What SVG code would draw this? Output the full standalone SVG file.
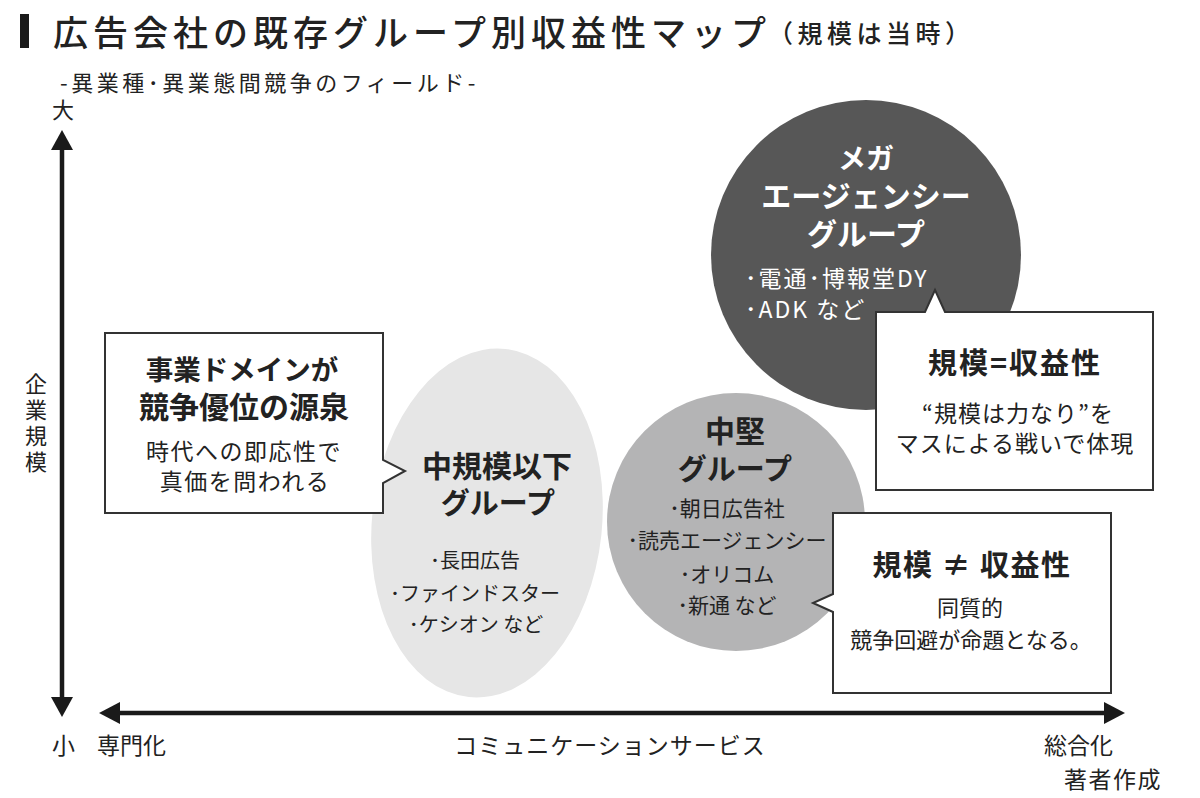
<svg xmlns="http://www.w3.org/2000/svg" width="1200" height="798" viewBox="0 0 1200 798">
<defs>
<style>
text{font-family:"Noto Sans CJK JP","Noto Sans",sans-serif;fill:#222}
.title{font-size:35px;font-weight:500;letter-spacing:5px}
.paren{font-size:25px;font-weight:500;letter-spacing:4.5px}
.sub{font-size:22px;letter-spacing:3.5px}
.ax{font-size:23px}
.hd{font-size:29px;font-weight:bold;text-anchor:middle}
.bd{font-size:22px;text-anchor:middle}
.it{font-size:20px;text-anchor:middle}
.it2{font-size:21px;text-anchor:middle}
.w{fill:#fff}
.box{fill:#fff;stroke:#333;stroke-width:2}
.axis{stroke:#1a1a1a;stroke-width:4.5;fill:none}
.ah{fill:#1a1a1a}
</style>
</defs>
<rect width="1200" height="798" fill="#fff"/>

<g id="title">
<rect x="20" y="14" width="9" height="34" fill="#1a1a1a"/>
<text class="title" x="53" y="46">広告会社の既存グループ別収益性マップ</text>
<text class="paren" x="768" y="43">（規模は当時）</text>
<text class="sub" x="60" y="91">-異業種･異業態間競争のフィールド-</text>
</g>

<g id="connectors">
<line class="axis" x1="62" y1="146" x2="62" y2="700"/>
<polygon class="ah" points="62,130 51,150 73,150"/>
<polygon class="ah" points="62,717 51,697 73,697"/>
<line class="axis" x1="116" y1="713" x2="1108" y2="713"/>
<polygon class="ah" points="99,713 120,702 120,724"/>
<polygon class="ah" points="1125,713 1104,702 1104,724"/>
</g>

<g id="axis-labels">
<text x="63" y="118" style="font-size:22px" text-anchor="middle">大</text>
<text x="36" y="373" style="font-size:22px;writing-mode:vertical-rl;letter-spacing:4px">企業規模</text>
<text class="ax" x="52" y="754">小</text>
<text class="ax" x="97" y="754">専門化</text>
<text class="ax" x="610" y="754" text-anchor="middle" style="letter-spacing:1px">コミュニケーションサービス</text>
<text class="ax" x="1044" y="754">総合化</text>
<text class="ax" x="1064" y="788" style="letter-spacing:1.5px">著者作成</text>
</g>

<g id="small-group">
<ellipse cx="487" cy="523" rx="115" ry="175" transform="rotate(6 487 523)" fill="#e6e6e6"/>
<text class="hd" x="497" y="477" style="font-size:30px">中規模以下</text>
<text class="hd" x="498" y="514">グループ</text>
<text class="it" x="475" y="568">･長田広告</text>
<text class="it" x="475" y="601">･ファインドスター</text>
<text class="it" x="476" y="632">･ケシオン など</text>
</g>

<g id="mega-group">
<circle cx="866" cy="255" r="155" fill="#575757"/>
<text class="hd w" x="866" y="169" style="font-size:28px">メガ</text>
<text class="hd w" x="866" y="207" style="font-size:30px">エージェンシー</text>
<text class="hd w" x="866" y="245" style="font-size:30px">グループ</text>
<text class="w" x="745" y="287" style="font-size:23px;letter-spacing:2px">･電通･博報堂DY</text>
<text class="w" x="745" y="318" style="font-size:23px;letter-spacing:2px">･ADK など</text>
</g>

<g id="mid-group">
<circle cx="736" cy="522" r="129" fill="#b4b4b5"/>
<text class="hd" x="735" y="442" style="font-size:30px">中堅</text>
<text class="hd" x="735" y="480">グループ</text>
<text class="it2" x="727" y="516">･朝日広告社</text>
<text class="it2" x="727" y="548">･読売エージェンシー</text>
<text class="it2" x="727" y="582">･オリコム</text>
<text class="it2" x="727" y="613">･新通 など</text>
</g>

<g id="callout-domain">
<path class="box" d="M105,333 H383 V460 L405,471 L383,483 V513 H105 Z"/>
<text class="hd" x="242" y="380" style="font-size:27.5px">事業ドメインが</text>
<text class="hd" x="244" y="418" style="font-size:30px">競争優位の源泉</text>
<text class="bd" x="244" y="460" style="font-size:23px;letter-spacing:1.5px">時代への即応性で</text>
<text class="bd" x="245" y="490" style="font-size:23px;letter-spacing:1.5px">真価を問われる</text>
</g>

<g id="callout-scale-eq">
<path class="box" d="M876,312 H925 L935,290 L945,312 H1153 V490 H876 Z"/>
<text class="hd" x="1015" y="374" style="letter-spacing:2px">規模=収益性</text>
<text class="bd" x="1018" y="422" style="font-size:23px;letter-spacing:1px">“規模は力なり”を</text>
<text class="bd" x="1015" y="452" style="font-size:23px;letter-spacing:1px">マスによる戦いで体現</text>
</g>

<g id="callout-scale-neq">
<path class="box" d="M833,513 H1111 V693 H833 V612 L813,603 L833,594 Z"/>
<text class="hd" x="972" y="576" style="letter-spacing:1.5px">規模 ≠ 収益性</text>
<text class="bd" x="970" y="616">同質的</text>
<text class="bd" x="971" y="648">競争回避が命題となる。</text>
</g>
</svg>
